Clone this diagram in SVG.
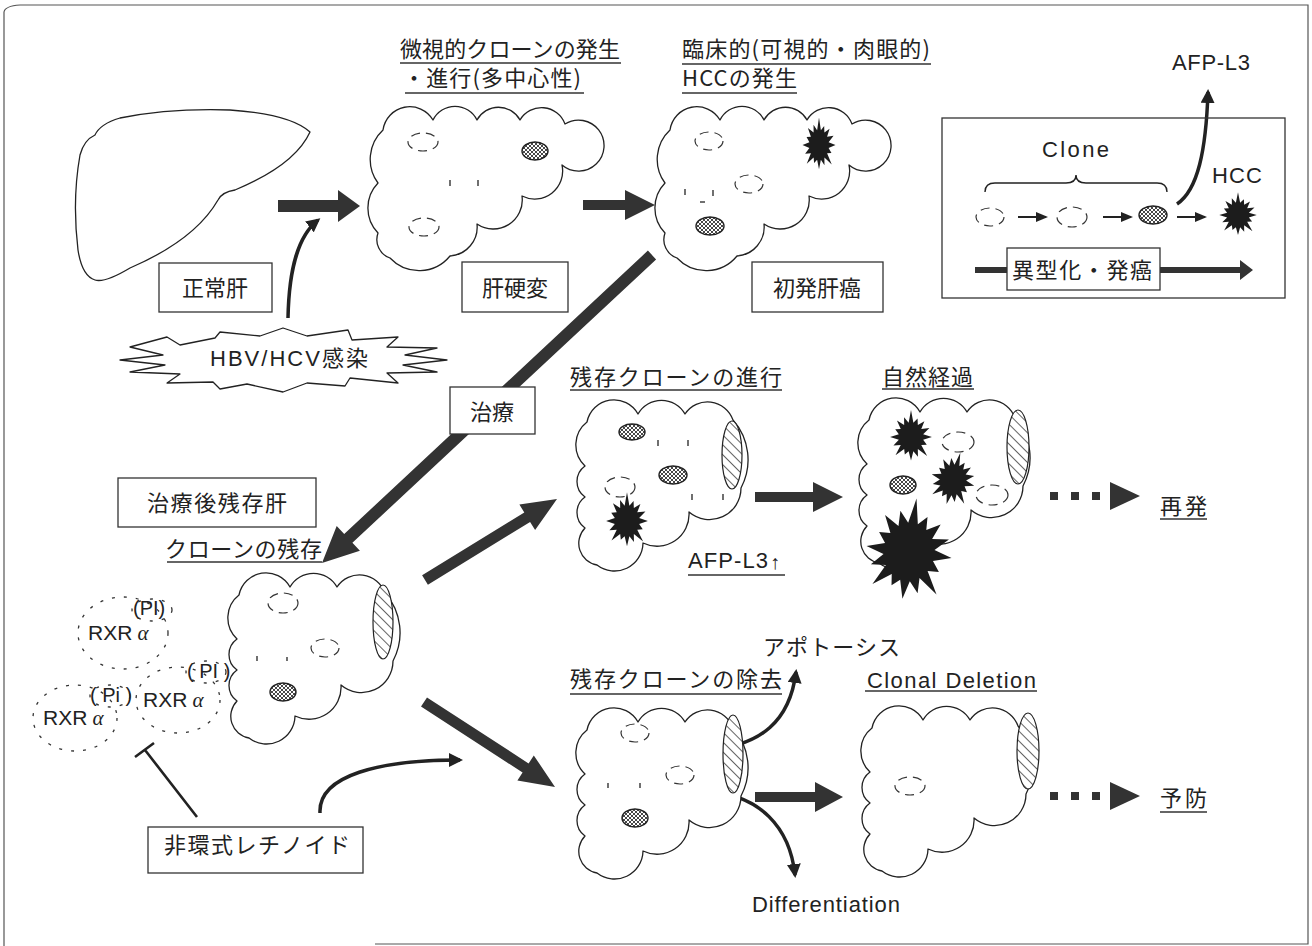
<svg xmlns="http://www.w3.org/2000/svg" xmlns:xlink="http://www.w3.org/1999/xlink" width="1312" height="946" viewBox="0 0 1312 946">
  <defs>
    <style>
      .frame{fill:none;stroke:#555;stroke-width:1.2}
      .liver{fill:#fff;stroke:#222;stroke-width:1.3;stroke-linejoin:round}
      .box{fill:#fff;stroke:#333;stroke-width:1.3}
      .jp{font-family:'Noto Sans CJK JP','Noto Sans CJK SC',sans-serif;font-size:22px;fill:#222}
      .en{font-family:'Liberation Sans',Arial,'Noto Sans CJK JP',sans-serif;font-size:22px;fill:#222}
      .mid{text-anchor:middle}
      .ul{stroke:#333;stroke-width:1.3}
      .fat{fill:#333}
      .burst{fill:#1c1c1c}
      .dash{fill:none;stroke:#333;stroke-width:1.2;stroke-dasharray:9 6}
      .mark{stroke:#333;stroke-width:1.4}
      .cut{fill:url(#hatch);stroke:#222;stroke-width:1.2}
      .clone{fill:url(#mottle);stroke:#222;stroke-width:1.4}
      .curve{fill:none;stroke:#222;stroke-width:3.5}
      .thin{fill:none;stroke:#222;stroke-width:2}
      .ring{fill:none;stroke:#333;stroke-width:1.3;stroke-dasharray:3 9}
      .inhibit{fill:none;stroke:#222;stroke-width:2.6}
    </style>
    <!-- resection margin hatching -->
    <pattern id="hatch" patternUnits="userSpaceOnUse" width="7" height="7" patternTransform="rotate(-45)">
      <rect width="7" height="7" fill="#fff"/>
      <line x1="0" y1="0" x2="0" y2="7" stroke="#222" stroke-width="1.4"/>
    </pattern>
    <!-- mottled fill of small clones -->
    <pattern id="mottle" patternUnits="userSpaceOnUse" width="4" height="4">
      <rect width="4" height="4" fill="#fff"/>
      <path d="M0,0 L4,4 M4,0 L0,4" stroke="#333" stroke-width="0.9"/>
    </pattern>
    <marker id="head" markerUnits="userSpaceOnUse" viewBox="0 0 14 14" markerWidth="14" markerHeight="14" refX="11" refY="7" orient="auto">
      <path d="M0,0 L14,7 L0,14 Z" fill="#222"/>
    </marker>
    <marker id="headS" markerUnits="userSpaceOnUse" viewBox="0 0 12 10" markerWidth="12" markerHeight="10" refX="10" refY="5" orient="auto">
      <path d="M0,0 L12,5 L0,10 Z" fill="#222"/>
    </marker>
    <!-- tumour starburst, radius ~22 -->
    <path id="burst" d="M22,0 L12.8,2.5 L16.6,6.9 L10.8,7.2 L17,17 L7.2,10.8 L7.3,17.6 L2.5,12.8 L0,21 L-2.5,12.8 L-6.5,15.7 L-7.2,10.8 L-16.3,16.3 L-10.8,7.2 L-18.5,7.7 L-12.8,2.5 L-22,0 L-12.8,-2.5 L-16.6,-6.9 L-10.8,-7.2 L-14.8,-14.8 L-7.2,-10.8 L-7.3,-17.6 L-2.5,-12.8 L0,-24 L2.5,-12.8 L6.9,-16.6 L7.2,-10.8 L14.1,-14.1 L10.8,-7.2 L19.4,-8 L12.8,-2.5 Z"/>
    <!-- whole cirrhotic liver outline (lobulated) -->
    <path id="liverC" d="M5,22 A27,27 0 0 1 55,12 A24.5,24.5 0 0 1 99,12 A24.5,24.5 0 0 1 142,12 A25,25 0 0 1 187,16 A25.5,25.5 0 1 1 184,57 A28,28 0 0 1 144,88 A29,29 0 0 1 99,116 A29,29 0 0 1 72,148 A40,40 0 0 1 12,150 A19.5,19.5 0 0 1 0,125 A36,36 0 0 1 0,75 A40,40 0 0 1 5,22 Z"/>
    <!-- resected liver outline -->
    <path id="liverR" d="M4,22 A27.5,27.5 0 0 1 55,14 A27,27 0 0 1 102,14 A27,27 0 0 1 150,20 A60,60 0 0 1 158,88 A31.5,31.5 0 0 1 106,112 A32,32 0 0 1 60,143 A28.5,28.5 0 0 1 14,165 A22,22 0 0 1 2,128 A19,19 0 0 1 2,97 A19,19 0 0 1 2,66 A29,29 0 0 1 4,22 Z"/>
  </defs>

  <rect width="1312" height="946" fill="#fff"/>
  <path class="frame" d="M4,946 L4,12 Q5,6 20,5 L1308,5 L1308,944 L375,944"/>

  <!-- connectors -->
  <g id="connectors">
    <polygon class="fat" points="278,200 338,200 338,190 360,206 338,222 338,212 278,212"/>
    <path class="curve" d="M288,318 C289,268 298,236 318,220" marker-end="url(#head)"/>
    <polygon class="fat" points="583,200 625,200 625,190 655,205 625,220 625,210 583,210"/>
    <polygon class="fat" points="647.9,250.6 344.2,534 336.7,526 322,563 359.9,550.8 352.4,542.8 656.1,259.4"/>
    <polygon class="fat" points="427.9,584.7 530.1,522 535.1,530.1 557,499 519.4,504.5 524.3,512.6 422.1,575.3"/>
    <polygon class="fat" points="421,706.6 522.6,772.6 517.4,780.6 555,787 533.8,755.4 528.6,763.4 427,697.4"/>
    <polygon class="fat" points="755,492 813,492 813,482 843,497 813,512 813,502 755,502"/>
    <polygon class="fat" points="755,792 815,792 815,782 843,797 815,812 815,802 755,802"/>
    <rect class="fat" x="1050" y="492" width="8" height="8"/>
    <rect class="fat" x="1071" y="492" width="8" height="8"/>
    <rect class="fat" x="1092" y="492" width="8" height="8"/>
    <polygon class="fat" points="1110,482 1140,496 1110,510"/>
    <rect class="fat" x="1050" y="792" width="8" height="8"/>
    <rect class="fat" x="1071" y="792" width="8" height="8"/>
    <rect class="fat" x="1092" y="792" width="8" height="8"/>
    <polygon class="fat" points="1110,782 1140,796 1110,810"/>
    <path class="curve" d="M707,750 C762,746 790,720 796,672" marker-end="url(#head)"/>
    <path class="curve" d="M707,792 C760,794 790,828 795,875" marker-end="url(#head)"/>
    <path class="curve" d="M320,813 C318,775 380,760 460,760" marker-end="url(#head)"/>
    <path class="inhibit" d="M197,817 L145,750 M135,757 L154,743"/>
    <path class="curve" d="M1177,204 C1198,190 1206,150 1208,92" marker-end="url(#head)"/>
  </g>

  <!-- normal liver -->
  <g id="normal-liver">
    <path class="liver" d="M95,135 Q100,124 120,118 Q170,108 230,110 Q290,114 310,132 Q295,165 235,190 Q222,192 218,200 Q195,240 130,268 Q105,283 95,280 Q82,276 78,250 Q72,200 80,155 Q84,140 95,135 Z"/>
    <rect class="box" x="159" y="263" width="113" height="49"/>
    <text class="jp mid" x="215" y="296">正常肝</text>
  </g>

  <!-- HBV/HCV infection -->
  <g id="hbv-infection">
    <path class="liver" d="M180,345 L215,338 L220,332 L260,336 L283,328 L307,336 L348,330 L352,340 L398,337 L387,347 L437,348 L405,355 L447,360 L403,365 L437,372 L387,373 L398,383 L350,378 L345,386 L307,383 L283,392 L247,384 L220,389 L213,382 L167,383 L180,374 L130,372 L165,365 L120,360 L163,355 L130,347 L167,337 Z"/>
    <text class="en mid" x="289" y="366" textLength="158">HBV/HCV感染</text>
  </g>

  <!-- cirrhotic liver -->
  <g id="cirrhosis-liver">
    <text class="jp" x="400" y="57" textLength="220">微視的クローンの発生</text>
    <line class="ul" x1="400" y1="63" x2="621" y2="63"/>
    <text class="jp" x="403" y="86" textLength="178">・進行(多中心性)</text>
    <line class="ul" x1="405" y1="93" x2="584" y2="93"/>
    <use href="#liverC" class="liver" x="378" y="108"/>
    <ellipse class="dash" cx="423" cy="142" rx="15" ry="9"/>
    <ellipse class="clone" cx="535" cy="151" rx="13" ry="9"/>
    <line class="mark" x1="450" y1="180" x2="450" y2="186"/>
    <line class="mark" x1="478" y1="180" x2="478" y2="186"/>
    <ellipse class="dash" cx="424" cy="227" rx="15" ry="9"/>
    <rect class="box" x="462" y="262" width="106" height="50"/>
    <text class="jp mid" x="515" y="296">肝硬変</text>
  </g>

  <!-- primary HCC liver -->
  <g id="hcc-liver">
    <text class="jp" x="682" y="57" textLength="248">臨床的(可視的・肉眼的)</text>
    <line class="ul" x1="682" y1="64" x2="931" y2="64"/>
    <text class="jp" x="682" y="86" textLength="115">HCCの発生</text>
    <line class="ul" x1="682" y1="93" x2="797" y2="93"/>
    <use href="#liverC" class="liver" x="665" y="108"/>
    <ellipse class="dash" cx="709" cy="141" rx="14" ry="9"/>
    <use href="#burst" class="burst" transform="translate(819,145) scale(0.75,1.15)"/>
    <ellipse class="dash" cx="749" cy="184" rx="14" ry="9"/>
    <line class="mark" x1="685" y1="189" x2="685" y2="195"/>
    <line class="mark" x1="713" y1="190" x2="713" y2="196"/>
    <line class="mark" x1="700" y1="202" x2="705" y2="202"/>
    <ellipse class="clone" cx="710" cy="226" rx="14" ry="9"/>
    <rect class="box" x="752" y="262" width="131" height="50"/>
    <text class="jp mid" x="817" y="296">初発肝癌</text>
  </g>

  <!-- clone progression box -->
  <g id="clone-box">
    <text class="en" x="1172" y="70" textLength="78">AFP-L3</text>
    <rect class="frame" x="942" y="118" width="343" height="180" style="stroke:#333;stroke-width:1.3"/>
    <text class="en" x="1042" y="157" textLength="67">Clone</text>
    <path class="thin" style="stroke-width:1.4" d="M985,192 Q985,183 995,183 L1066,183 Q1076,183 1076,175 Q1076,183 1086,183 L1157,183 Q1167,183 1167,192"/>
    <text class="en" x="1212" y="183" textLength="50">HCC</text>
    <ellipse class="dash" cx="990" cy="217" rx="14" ry="9"/>
    <line class="thin" x1="1018" y1="217" x2="1046" y2="217" marker-end="url(#headS)"/>
    <ellipse class="dash" cx="1072" cy="217" rx="15" ry="10"/>
    <line class="thin" x1="1103" y1="217" x2="1131" y2="217" marker-end="url(#headS)"/>
    <ellipse class="clone" cx="1153" cy="215" rx="14" ry="9"/>
    <line class="thin" x1="1177" y1="217" x2="1205" y2="217" marker-end="url(#headS)"/>
    <use href="#burst" class="burst" transform="translate(1238,215) scale(0.85,0.95)"/>
    <polygon class="fat" points="975,267 1240,267 1240,260 1253,270 1240,280 1240,273 975,273"/>
    <rect class="box" x="1007" y="248" width="153" height="42"/>
    <text class="jp" x="1012" y="278" textLength="140">異型化・発癌</text>
  </g>

  <!-- treatment -->
  <g id="treatment">
    <rect class="box" x="450" y="387" width="85" height="47"/>
    <text class="jp mid" x="492" y="420">治療</text>
  </g>

  <!-- residual liver after treatment -->
  <g id="residual-liver">
    <rect class="box" x="118" y="478" width="198" height="49"/>
    <text class="jp mid" x="217" y="511" textLength="140">治療後残存肝</text>
    <text class="jp" x="165" y="557" textLength="157">クローンの残存</text>
    <line class="ul" x1="167" y1="562" x2="322" y2="562"/>
    <use href="#liverR" class="liver" x="235" y="573"/>
    <ellipse class="cut" cx="383" cy="622" rx="10" ry="37"/>
    <ellipse class="dash" cx="283" cy="603" rx="15" ry="10"/>
    <ellipse class="dash" cx="325" cy="648" rx="14" ry="9"/>
    <line class="mark" x1="257" y1="656" x2="257" y2="661"/>
    <line class="mark" x1="287" y1="657" x2="287" y2="661"/>
    <ellipse class="clone" cx="283" cy="692" rx="13" ry="9"/>
  </g>

  <!-- progression of residual clones -->
  <g id="progression-liver">
    <text class="jp" x="570" y="385" textLength="212">残存クローンの進行</text>
    <line class="ul" x1="570" y1="390" x2="782" y2="390"/>
    <use href="#liverR" class="liver" x="583" y="400"/>
    <ellipse class="cut" cx="732" cy="455" rx="10" ry="34"/>
    <ellipse class="clone" cx="632" cy="432" rx="13" ry="8"/>
    <line class="mark" x1="658" y1="440" x2="658" y2="446"/>
    <line class="mark" x1="688" y1="440" x2="688" y2="446"/>
    <ellipse class="clone" cx="673" cy="475" rx="14" ry="9"/>
    <ellipse class="dash" cx="620" cy="487" rx="15" ry="10"/>
    <line class="mark" x1="692" y1="494" x2="692" y2="500"/>
    <line class="mark" x1="723" y1="494" x2="723" y2="500"/>
    <use href="#burst" class="burst" transform="translate(627,521) scale(0.95,1.2)"/>
    <text class="en" x="688" y="568" textLength="80">AFP-L3</text>
    <text class="en" x="770" y="569" style="font-size:20px">↑</text>
    <line class="ul" x1="688" y1="575" x2="785" y2="575"/>
  </g>

  <!-- natural course -->
  <g id="natural-course-liver">
    <text class="jp" x="882" y="385" textLength="91">自然経過</text>
    <line class="ul" x1="882" y1="389" x2="974" y2="389"/>
    <use href="#liverR" class="liver" x="865" y="398"/>
    <ellipse class="cut" cx="1018" cy="447" rx="11" ry="37"/>
    <use href="#burst" class="burst" transform="translate(911,437) scale(0.95,1.12)"/>
    <ellipse class="dash" cx="958" cy="442" rx="16" ry="10"/>
    <ellipse class="clone" cx="903" cy="485" rx="13" ry="9"/>
    <use href="#burst" class="burst" transform="translate(953,480) rotate(15) scale(1,1.18)"/>
    <ellipse class="dash" cx="992" cy="495" rx="16" ry="10"/>
    <use href="#burst" class="burst" transform="translate(909,552) rotate(8) scale(1.95,2.25)"/>
    <text class="jp" x="1160" y="514" textLength="47">再発</text>
    <line class="ul" x1="1160" y1="519" x2="1207" y2="519"/>
  </g>

  <!-- elimination of residual clones -->
  <g id="elimination-liver">
    <text class="jp" x="763" y="655" textLength="137">アポトーシス</text>
    <text class="jp" x="570" y="687" textLength="212">残存クローンの除去</text>
    <line class="ul" x1="570" y1="694" x2="782" y2="694"/>
    <use href="#liverR" class="liver" x="583" y="708"/>
    <ellipse class="cut" cx="733" cy="754" rx="10" ry="39"/>
    <ellipse class="dash" cx="635" cy="733" rx="14" ry="9"/>
    <ellipse class="dash" cx="680" cy="775" rx="14" ry="9"/>
    <line class="mark" x1="608" y1="783" x2="608" y2="788"/>
    <line class="mark" x1="640" y1="783" x2="640" y2="788"/>
    <ellipse class="clone" cx="635" cy="818" rx="13" ry="9"/>
    <text class="en" x="752" y="912" textLength="148">Differentiation</text>
  </g>

  <!-- clonal deletion -->
  <g id="deletion-liver">
    <text class="en" x="867" y="688" textLength="169">Clonal Deletion</text>
    <line class="ul" x1="865" y1="691" x2="1037" y2="691"/>
    <use href="#liverR" class="liver" x="868" y="706"/>
    <ellipse class="cut" cx="1028" cy="751" rx="11" ry="38"/>
    <ellipse class="dash" cx="910" cy="786" rx="15" ry="9"/>
    <text class="jp" x="1160" y="806" textLength="47">予防</text>
    <line class="ul" x1="1160" y1="812" x2="1207" y2="812"/>
  </g>

  <!-- phosphorylated RXR alpha -->
  <g id="rxr-alpha">
    <ellipse class="ring" cx="123" cy="633" rx="45" ry="36"/>
    <ellipse class="ring" cx="178" cy="700" rx="42" ry="33"/>
    <ellipse class="ring" cx="75" cy="718" rx="42" ry="33"/>
    <ellipse class="ring" cx="152" cy="610" rx="20" ry="11"/>
    <ellipse class="ring" cx="206" cy="672" rx="20" ry="11"/>
    <ellipse class="ring" cx="110" cy="696" rx="20" ry="11"/>
    <text class="en" x="88" y="640" style="font-size:21px">RXR<tspan font-style="italic" font-family="'Liberation Serif',serif"> α</tspan></text>
    <text class="en" x="133" y="615" style="font-size:20px">(PI)</text>
    <text class="en" x="143" y="707" style="font-size:21px">RXR<tspan font-style="italic" font-family="'Liberation Serif',serif"> α</tspan></text>
    <text class="en" x="187" y="678" style="font-size:20px">( PI )</text>
    <text class="en" x="43" y="725" style="font-size:21px">RXR<tspan font-style="italic" font-family="'Liberation Serif',serif"> α</tspan></text>
    <text class="en" x="90" y="702" style="font-size:20px">( Pi )</text>
  </g>

  <!-- acyclic retinoid -->
  <g id="retinoid">
    <rect class="box" x="148" y="827" width="215" height="46"/>
    <text class="jp mid" x="257" y="853" textLength="186">非環式レチノイド</text>
  </g>
</svg>
